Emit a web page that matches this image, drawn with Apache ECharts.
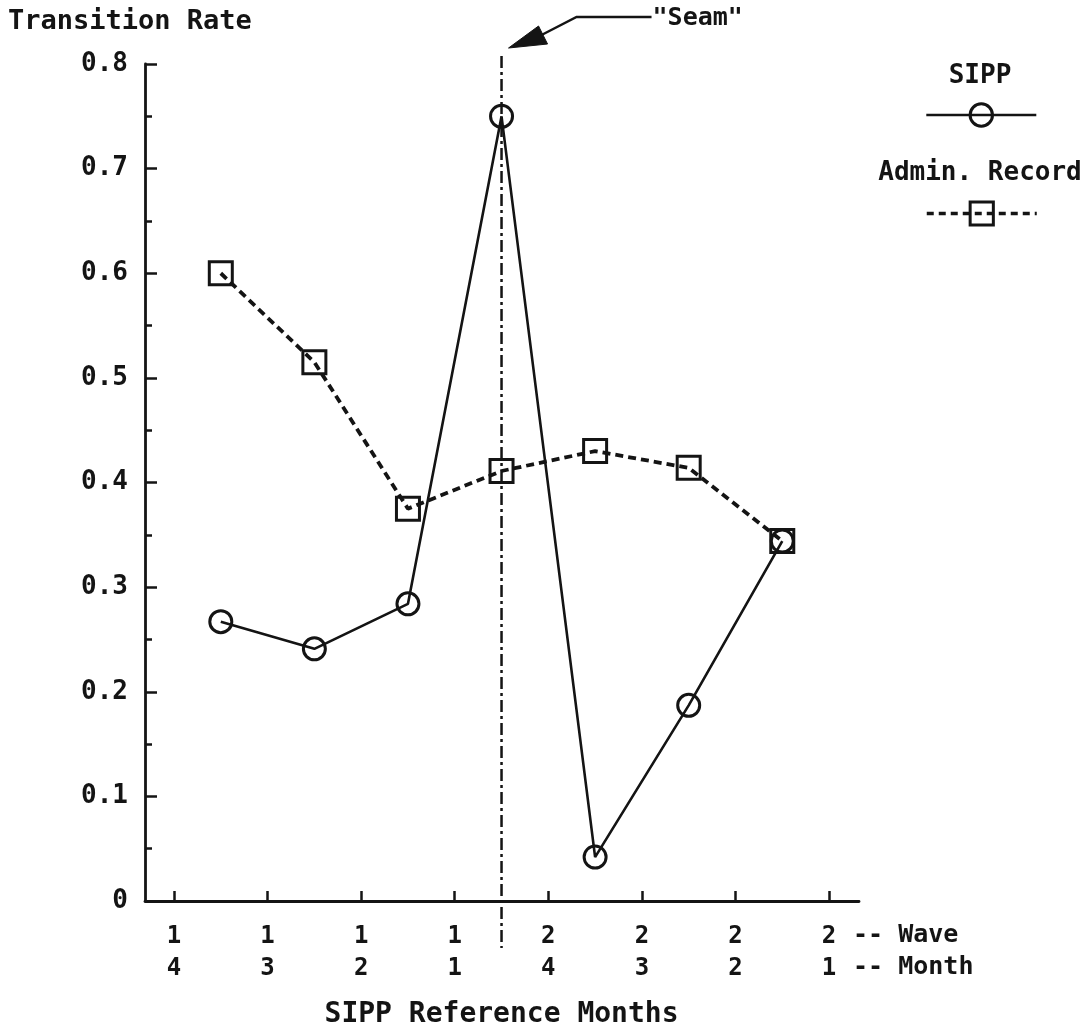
<!DOCTYPE html>
<html>
<head>
<meta charset="utf-8">
<script src="https://cdn.jsdelivr.net/npm/echarts@6/dist/echarts.min.js"></script>
<style>
html,body{margin:0;padding:0;background:#fff;}
#chart{width:1089px;height:1031px;}
</style>
</head>
<body>
<div id="chart"></div>
<script>
// ---- data ----
const waveLabels  = ['1','1','1','1','2','2','2','2'];
const monthLabels = ['4','3','2','1','4','3','2','1'];
const tickPos     = [0,1,2,3,4,5,6,7];
const pointPos    = [0.5,1.5,2.5,3.5,4.5,5.5,6.5];
const sippValues  = [0.267,0.241,0.284,0.750,0.042,0.187,0.344];
const adminValues = [0.600,0.515,0.375,0.411,0.430,0.414,0.344];
const seamPos     = 3.5;
const seriesNames = ['SIPP','Admin. Record'];

const FONT = '"DejaVu Sans Mono", "Liberation Mono", monospace';
const INK = '#141414';

const chart = echarts.init(document.getElementById('chart'), null, {renderer:'canvas'});

const option = {
  backgroundColor: '#ffffff',
  animation: false,
  grid: {left:145, right:230, top:64, bottom:130, containLabel:false},
  xAxis: {
    type:'value', min:-0.31, max:7.32,
    axisLine:{show:true, onZero:false, lineStyle:{color:INK, width:2.8}},
    axisTick:{show:true, inside:true, length:10, lineStyle:{color:INK, width:2.5}, customValues:tickPos},
    axisLabel:{
      show:true, margin:20, customValues:tickPos,
      fontFamily:FONT, fontWeight:'bold', fontSize:24, color:INK, lineHeight:32,
      formatter:function(v){ const i = Math.round(v); return waveLabels[i] + '\n' + monthLabels[i]; }
    },
    splitLine:{show:false}
  },
  yAxis: {
    type:'value', min:0, max:0.8, interval:0.1,
    axisLine:{show:true, onZero:false, lineStyle:{color:INK, width:2.8}},
    axisTick:{show:true, inside:true, length:12, lineStyle:{color:INK, width:2.5}},
    minorTick:{show:true, splitNumber:2, length:7, lineStyle:{color:INK, width:2.5}},
    axisLabel:{
      margin:17, fontFamily:FONT, fontWeight:'bold', fontSize:26, color:INK,
      formatter:function(v){ return v === 0 ? '0' : v.toFixed(1); }
    },
    splitLine:{show:false}
  },
  legend: [
    {data:[seriesNames[0]], left:925, top:101, itemWidth:110, itemHeight:28, formatter:function(){return '';}, selectedMode:false, padding:0,
     lineStyle:{width:2.6, color:INK}, itemStyle:{borderWidth:3, borderColor:INK, color:'rgba(255,255,255,0)'}},
    {data:[seriesNames[1]], left:925, top:199, itemWidth:110, itemHeight:29, formatter:function(){return '';}, selectedMode:false, padding:0,
     lineStyle:{width:3.5, color:INK, type:[7,5]}, itemStyle:{borderWidth:3, borderColor:INK, color:'rgba(255,255,255,0)'}}
  ],
  series: [
    {
      name: seriesNames[0], type:'line',
      data: pointPos.map((x,i)=>[x, sippValues[i]]),
      symbol:'circle', symbolSize:22,
      lineStyle:{color:INK, width:2.6, type:'solid'},
      itemStyle:{color:'rgba(255,255,255,0)', borderColor:INK, borderWidth:3},
      z:3
    },
    {
      name: seriesNames[1], type:'line',
      data: pointPos.map((x,i)=>[x, adminValues[i]]),
      symbol:'rect', symbolSize:23,
      lineStyle:{color:INK, width:3.8, type:[8,5]},
      itemStyle:{color:'rgba(255,255,255,0)', borderColor:INK, borderWidth:3},
      z:2
    }
  ]
};
chart.setOption(option);

// ---- annotations anchored via the chart's own scales ----
const sx = chart.convertToPixel({xAxisIndex:0}, seamPos);
const yTop = chart.convertToPixel({yAxisIndex:0}, 0.8);
const yZero = chart.convertToPixel({yAxisIndex:0}, 0);
const lastTick = chart.convertToPixel({xAxisIndex:0}, tickPos[tickPos.length-1]);

const txt = (x,y,t,size,align) => ({
  type:'text', x:x, y:y, silent:true,
  style:{text:t, fontFamily:FONT, fontWeight:'bold', fontSize:size, fill:INK, align:align||'left', verticalAlign:'middle'}
});

chart.setOption({
  graphic: [
    {type:'line', silent:true, z:10, shape:{x1:sx, y1:yTop-8, x2:sx, y2:yZero+47},
     style:{stroke:INK, lineWidth:2.5, lineDash:[12,4,3,4]}},
    {type:'polyline', silent:true, shape:{points:[[sx+150,17],[sx+75,17],[sx+40,35]]},
     style:{stroke:INK, lineWidth:2.5, fill:null}},
    {type:'polygon', silent:true, shape:{points:[[sx+7,48],[sx+37,26],[sx+46,44]]},
     style:{fill:INK, stroke:INK, lineWidth:1}},
    txt(sx+151, 18, '"Seam"', 25, 'left'),
    txt(8, 22, 'Transition Rate', 27, 'left'),
    txt(980, 76, 'SIPP', 26, 'center'),
    txt(980, 173, 'Admin. Record', 26, 'center'),
    txt(sx, 1015, 'SIPP Reference Months', 28, 'center'),
    txt(lastTick+24, 935, '-- Wave', 25, 'left'),
    txt(lastTick+24, 967, '-- Month', 25, 'left')
  ]
});
</script>
</body>
</html>
